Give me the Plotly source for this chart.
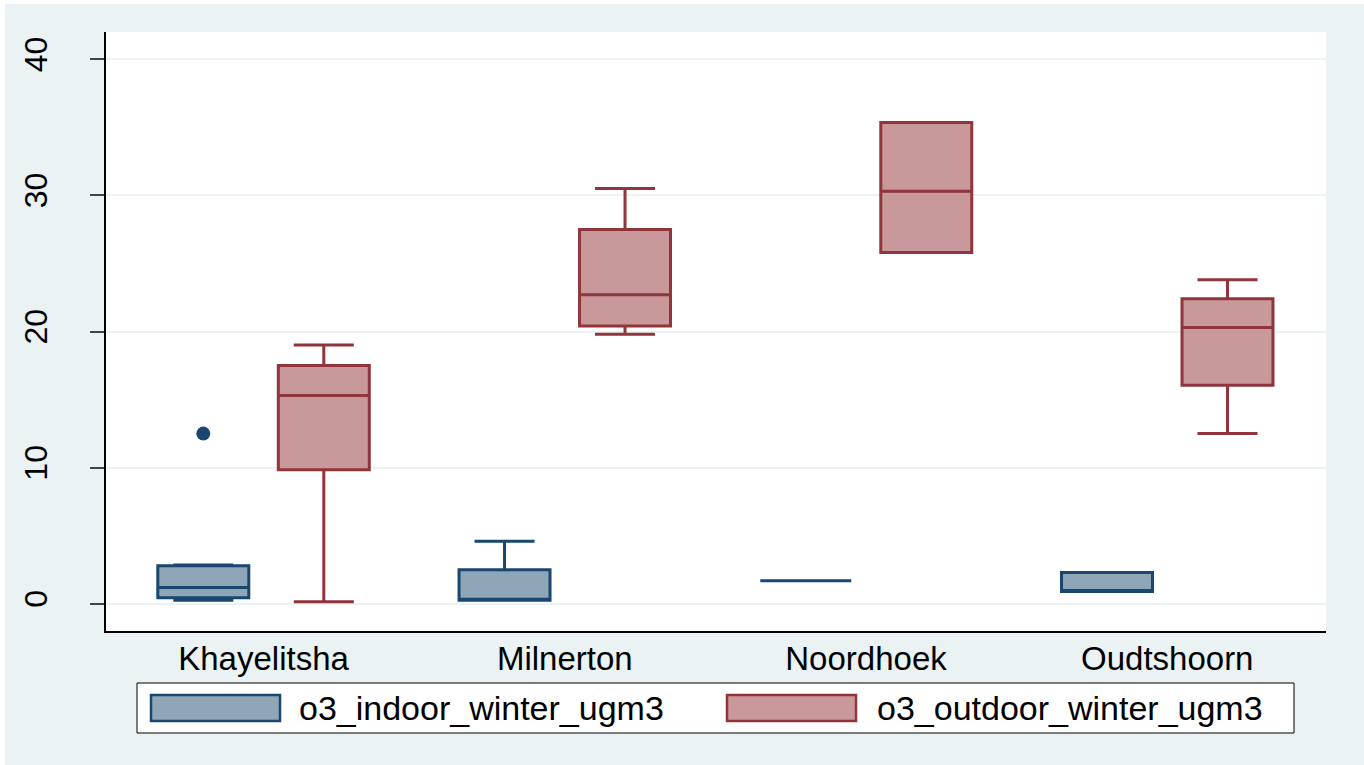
import numpy as np
import plotly.graph_objects as go

# Sites on the x axis
sites = ["Khayelitsha", "Milnerton", "Noordhoek", "Oudtshoorn"]

# Indoor ozone, winter (ug/m3): box statistics per site
indoor_name = "o3_indoor_winter_ugm3"
indoor_lower = [0.25, 0.25, 1.7, 0.9]
indoor_q1 = [0.45, 0.25, 1.7, 0.9]
indoor_median = [1.2, 0.25, 1.7, 0.9]
indoor_q3 = [2.8, 2.5, 1.7, 2.3]
indoor_upper = [2.85, 4.6, 1.7, 2.3]

# Outdoor ozone, winter (ug/m3): box statistics per site
outdoor_name = "o3_outdoor_winter_ugm3"
outdoor_lower = [0.15, 19.8, 25.8, 12.5]
outdoor_q1 = [9.85, 20.4, 25.8, 16.05]
outdoor_median = [15.3, 22.7, 30.3, 20.3]
outdoor_q3 = [17.5, 27.5, 35.35, 22.4]
outdoor_upper = [19.0, 30.5, 35.35, 23.8]

# Outside values
outlier_site = ["Khayelitsha"]
outlier_value = [12.5]

# y-axis ticks
y_ticks = [0, 10, 20, 30, 40]

NAVY = "#1a476f"
NAVY_FILL = "#8fa5b8"
MAROON = "#90353b"
MAROON_FILL = "#c8989b"
BG = "#eaf2f3"
FONT = "Liberation Sans, Arial, sans-serif"

W, H = 1364, 765
ML, MR, MT, MB = 106, 38, 32, 134
PW, PH = W - ML - MR, H - MT - MB

def px_x(p):
    return (p - ML) / PW

def px_y(p):
    return (H - MB - p) / PH

idx = np.arange(len(sites))
shift = 0.2
box_w = 0.302

fig = go.Figure()

series = [
    (indoor_name, -shift, indoor_lower, indoor_q1, indoor_median, indoor_q3, indoor_upper, NAVY, NAVY_FILL),
    (outdoor_name, shift, outdoor_lower, outdoor_q1, outdoor_median, outdoor_q3, outdoor_upper, MAROON, MAROON_FILL),
]

for name, off, lo, q1, med, q3, up, lc, fc in series:
    fig.add_trace(go.Box(
        name=name,
        x=idx + off,
        lowerfence=lo, q1=q1, median=med, q3=q3, upperfence=up,
        width=box_w,
        whiskerwidth=0.66,
        orientation="v",
        line=dict(color=lc, width=3),
        fillcolor=fc,
        boxpoints=False,
        showlegend=False,
    ))

site_pos = {s: i for i, s in enumerate(sites)}
fig.add_trace(go.Scatter(
    x=[site_pos[s] - shift for s in outlier_site],
    y=outlier_value,
    mode="markers",
    marker=dict(color=NAVY, size=14, line=dict(width=0)),
    showlegend=False,
))

shapes = [
    # thin white edge along the top and left of the canvas
    dict(type="rect", xref="paper", yref="paper", layer="below",
         x0=px_x(0), x1=px_x(W), y0=px_y(0), y1=px_y(4),
         fillcolor="white", line=dict(width=0)),
    dict(type="rect", xref="paper", yref="paper", layer="below",
         x0=px_x(0), x1=px_x(5), y0=px_y(0), y1=px_y(H),
         fillcolor="white", line=dict(width=0)),
    # legend frame
    dict(type="rect", xref="paper", yref="paper",
         x0=px_x(137), x1=px_x(1294), y0=px_y(683), y1=px_y(733),
         fillcolor="white", line=dict(color="black", width=1)),
]
annotations = []

legend_items = [
    (indoor_name, NAVY, NAVY_FILL, 151, 297),
    (outdoor_name, MAROON, MAROON_FILL, 727, 875),
]
for name, lc, fc, sx, tx in legend_items:
    shapes.append(dict(type="rect", xref="paper", yref="paper",
                       x0=px_x(sx), x1=px_x(sx + 129), y0=px_y(695), y1=px_y(721),
                       fillcolor=fc, line=dict(color=lc, width=2.5)))
    annotations.append(dict(xref="paper", yref="paper", x=px_x(tx), y=px_y(708),
                            xanchor="left", yanchor="middle", showarrow=False,
                            text=name, font=dict(family=FONT, size=34, color="black")))

fig.update_layout(
    width=W, height=H,
    margin=dict(l=ML, r=MR, t=MT, b=MB),
    paper_bgcolor=BG,
    plot_bgcolor="white",
    font=dict(family=FONT, color="black"),
    shapes=shapes,
    annotations=annotations,
    showlegend=False,
    xaxis=dict(
        range=[-0.523, 3.527],
        tickvals=list(idx), ticktext=sites,
        showgrid=False, zeroline=False,
        showline=True, linecolor="black", linewidth=1.5,
        ticks="", tickfont=dict(family=FONT, size=33, color="black"),
        ticklabelstandoff=-2,
    ),
    yaxis=dict(
        range=[-2, 42],
        tickvals=y_ticks,
        showgrid=True, gridcolor=BG, gridwidth=2,
        zeroline=False,
        showline=True, linecolor="black", linewidth=1.5,
        ticks="outside", ticklen=14, tickwidth=1.5, tickcolor="#444",
        tickangle=-90,
        tickfont=dict(family=FONT, size=32, color="black"),
        ticklabelstandoff=30,
    ),
)

fig.write_html("out.html")
